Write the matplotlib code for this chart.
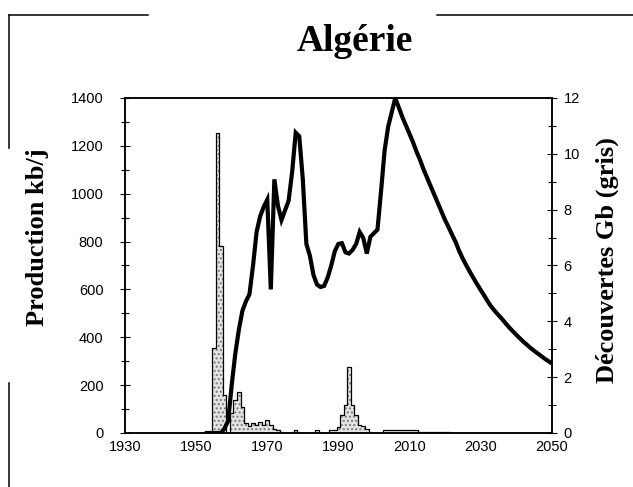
import numpy as np
from matplotlib import pyplot as plt
from matplotlib.lines import Line2D
from matplotlib.ticker import MultipleLocator

# Production (kb/j), one value per year
prod_years = list(range(1953, 2051))
prod_values = [
    0, 0, 0, 0, 0, 20, 50,
    200, 330, 430, 510, 550, 580, 700, 840, 905, 945,
    975, 600, 1060, 950, 890, 930, 970, 1090, 1255, 1240,
    1060, 790, 740, 660, 620, 610, 615, 650, 700, 760,
    790, 793, 755, 750, 765, 790, 840, 815, 750, 820,
    835, 850, 1010, 1180, 1280, 1340, 1400, 1360, 1320, 1285,
    1250, 1215, 1175, 1140, 1100, 1065, 1030, 995, 960, 925,
    890, 860, 828, 797, 760, 728, 700, 673, 647, 622,
    598, 575, 550, 528, 510, 493, 477, 459, 442, 426,
    411, 396, 382, 369, 356, 344, 333, 322, 311, 301, 291,
]

# Discoveries (Gb), one value per year
disc_years = list(range(1953, 2023))
disc_values = [
    0, 0, 3.05, 10.75, 6.7, 1.35, 0,
    0.72, 1.18, 1.48, 0.94, 0.36, 0.25, 0.35, 0.3, 0.4, 0.3,
    0.45, 0.3, 0.15, 0.1, 0.05, 0, 0, 0, 0.12, 0,
    0, 0, 0, 0, 0.1, 0, 0, 0, 0.1, 0.1,
    0.2, 0.65, 1.0, 2.35, 1.0, 0.65, 0.3, 0.25, 0.15, 0,
    0, 0, 0, 0.12, 0.12, 0.12, 0.12, 0.12, 0.12, 0.12,
    0.12, 0.12, 0.12, 0.04, 0.04, 0.04, 0.04, 0.04, 0.04, 0.04,
    0.04, 0.04, 0,
]

x_ticks = list(range(1930, 2051, 20))

serif = ["Liberation Serif", "DejaVu Serif"]
sans = ["Liberation Sans", "DejaVu Sans"]
tick_size = 10.5

fig = plt.figure(figsize=(6.33, 4.87), dpi=100)
ax = fig.add_axes([0.1975, 0.1109, 0.6741, 0.6879])
ax2 = ax.twinx()
ax.set_zorder(ax2.get_zorder() + 1)
ax.patch.set_visible(False)

###
# discoveries, grey stipple with black outline
ax2.fill_between(disc_years, disc_values, step="mid", facecolor="#e4e4e4",
                 hatch="....", edgecolor="#7a7a7a", linewidth=0)
ax2.step(disc_years, disc_values, where="mid", color="black", lw=0.9)

# production
ax.plot(prod_years, prod_values, color="black", lw=3.0, solid_joinstyle="miter")
#
###

ax.set_xlim(1930, 2050)
ax.set_ylim(0, 1400)
ax2.set_ylim(0, 12)
ax.set_xticks(x_ticks)
ax.yaxis.set_major_locator(MultipleLocator(200))
ax.yaxis.set_minor_locator(MultipleLocator(100))
ax2.yaxis.set_major_locator(MultipleLocator(2))
ax2.yaxis.set_minor_locator(MultipleLocator(1))

ax.tick_params(axis="x", length=0, pad=5, labelsize=tick_size)
ax.tick_params(axis="y", which="major", direction="inout", length=7, width=0.8,
               labelsize=tick_size, pad=12)
ax.tick_params(axis="y", which="minor", direction="inout", length=6, width=0.8)
ax2.tick_params(axis="y", which="major", direction="inout", length=7, width=0.8,
                labelsize=tick_size, pad=5)
ax2.tick_params(axis="y", which="minor", direction="inout", length=6, width=0.8)
for a in (ax, ax2):
    for lab in a.get_xticklabels() + a.get_yticklabels():
        lab.set_family(sans)
    for sp in a.spines.values():
        sp.set_linewidth(1.1)

fig.text(0.561, 0.914, "Algérie", ha="center", va="center", fontsize=27,
         fontweight="bold", family=serif)
fig.text(0.059, 0.512, "Production kb/j", ha="center", va="center", rotation=90,
         fontsize=19, fontweight="bold", family=serif)
fig.text(0.959, 0.466, "Découvertes Gb (gris)", ha="center", va="center", rotation=90,
         fontsize=19, fontweight="bold", family=serif)

# broken frame around the chart
W, H = 633, 487
frame = [
    ((9, 148), (15, 15)),
    ((437, 633), (15, 15)),
    ((9, 9), (15, 148)),
    ((9, 9), (383, 487)),
]
for xs, ys in frame:
    fig.add_artist(Line2D([x / W for x in xs], [1 - y / H for y in ys],
                          color="black", lw=1.1, transform=fig.transFigure))

fig.savefig("out.png", dpi=100)
